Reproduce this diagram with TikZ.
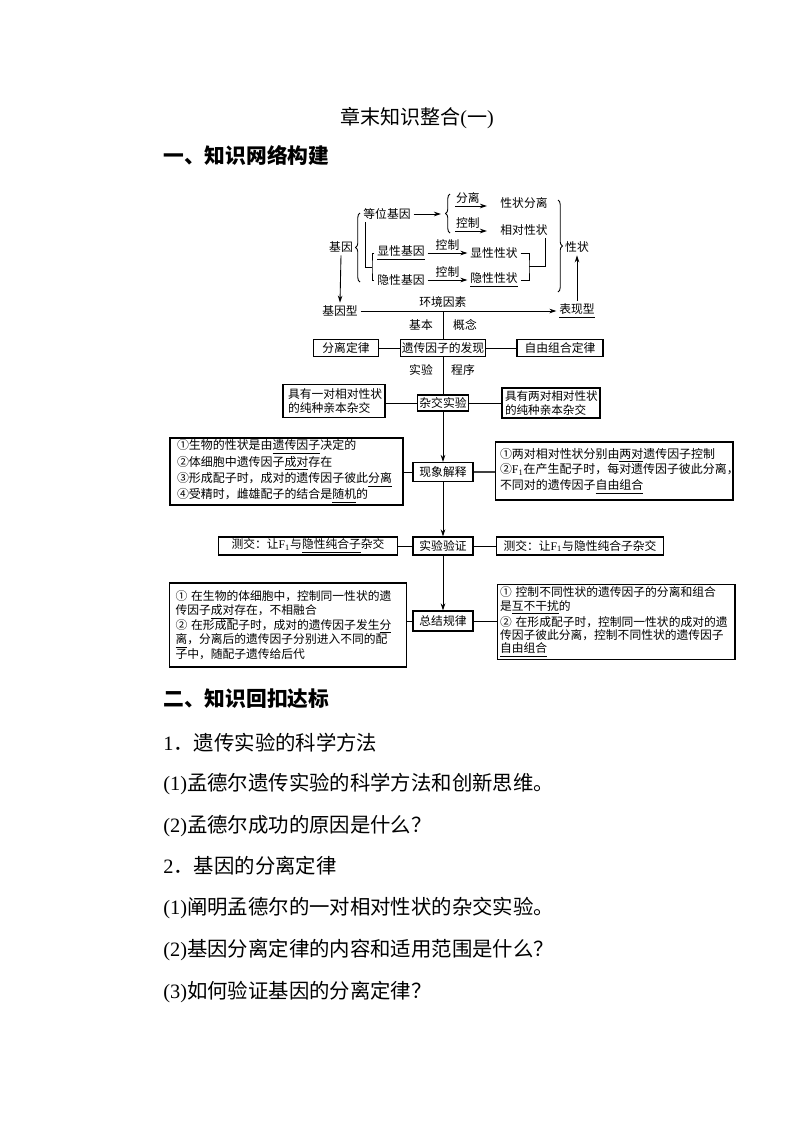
\documentclass[tikz,border=0pt]{standalone}
\usepackage{fontspec}
\setmainfont{Noto Sans CJK SC}
\newfontfamily\tnr{Liberation Serif}
\usetikzlibrary{arrows.meta,decorations.pathreplacing,calc}
\begin{document}
\begin{tikzpicture}[x=0.02cm,y=-0.02cm,
  every node/.style={font=\fontsize{6.7pt}{8pt}\selectfont, inner sep=1.5pt},
  bx/.style={draw, line width=0.6pt, inner sep=0pt, minimum height=0.34cm},
  tbox/.style={draw, line width=0.6pt, inner ysep=0pt, align=left},
  arr/.style={-{Stealth[length=4pt,width=2.6pt]}, line width=0.5pt},
  ln/.style={line width=0.5pt},
  brc/.style={decorate, decoration={brace, amplitude=2.5pt}, line width=0.5pt},
  body/.style={anchor=west, font=\fontsize{11.6pt}{14pt}\selectfont, inner sep=0pt},
  head/.style={anchor=west, font=\bfseries\fontsize{11.8pt}{14pt}\selectfont, inner sep=0pt},
]
\fill[white] (0,0) rectangle (794,1123);
\useasboundingbox (0,0) rectangle (794,1123);

% titles
\node[font=\fontsize{11.4pt}{14pt}\selectfont, inner sep=0pt] (title) at (417,118) {章末知识整合{\tnr(}一{\tnr)}};
\node[head] (h1) at (163,155) {一、知识网络构建};

% ---------- top part ----------
\node (jy) at (341,247) {基因};
\draw[brc] (360,282) -- (360,213);
\node (dw) at (387,214) {等位基因};
\coordinate (b2t) at (441,214);
\draw[arr] (dw.east) -- (b2t);
\draw[brc] (450,233) -- (450,194);
\coordinate (f1s) at (455,206);
\coordinate (f1e) at (487,206);
\draw[arr] (f1s) -- node[above, pos=0.4, inner sep=1pt] {分离} (f1e);
\node (xzfl) at (524,203) {性状分离};
\coordinate (k1s) at (455,231);
\coordinate (k1e) at (487,231);
\draw[arr] (k1s) -- node[above, pos=0.4, inner sep=1pt] {控制} (k1e);
\node (xdxz) at (524,230) {相对性状};

\node (xxjy) at (401,253) {\underline{显性基因}};
\node (yxjy) at (401,280) {隐性基因};
\coordinate (c1) at (372,267);
\draw[ln] ($(dw.south west)+(5,0)$) |- (c1);
\draw[ln] (xxjy.west) -| (c1) |- (yxjy.west);

\node (xxxz) at (494,253) {显性性状};
\node (yxxz) at (494,280) {\underline{隐性性状}};
\draw[arr] (xxjy.east) -- node[above, inner sep=1pt] {控制} (xxxz.west);
\draw[arr] (yxjy.east) -- node[above, inner sep=1pt] {控制} (yxxz.west);
\coordinate (c2) at (529,266.5);
\draw[ln] (xxxz.east) -| (c2) |- (yxxz.east);
\draw[ln] (c2) -| ($(xdxz.south east)+(-5,0)$);

\draw[brc] (558,200) -- (558,292);
\node (xz) at (577,247) {性状};
\node (bxx) at (577,311) {\underline{表现型}};
\draw[arr] (bxx.north) -- (xz.south);
\node (jyx) at (340,311) {基因型};
\draw[arr] (jy.south) -- (jyx.north);
\draw[arr] (jyx.east) -- node[above, pos=0.42, inner sep=2pt] {环境因素} (bxx.west);

% ---------- flow part ----------
\node[bx, minimum width=1.70cm] (fx) at (443,348) {遗传因子的发现};
\draw[ln] (fx.north) -- (fx.north |- jyx.east);
\node (jb) at (421,325) {基本};
\node (gn) at (465,325) {概念};
\node[bx, minimum width=1.30cm] (fl) at (346,348) {分离定律};
\node[bx, minimum width=1.72cm] (zy) at (560,348) {自由组合定律};
\draw[ln] (fl) -- (fx);
\draw[ln] (fx) -- (zy);
\node (sy) at (421,370) {实验};
\node (cx) at (463,370) {程序};

\node[bx, minimum width=1.02cm, minimum height=0.32cm] (zj) at (443,403) {杂交实验};
\draw[ln] (fx.south) -- (zj.north);
\node[tbox, font=\fontsize{6.7pt}{7.8pt}\selectfont, inner xsep=0.1cm, text width=1.84cm, minimum height=0.66cm] (zjl) at (334,401) {具有一对相对性状\\的纯种亲本杂交};
\node[tbox, font=\fontsize{6.6pt}{7.6pt}\selectfont, inner xsep=0.06cm, text width=1.84cm, minimum height=0.60cm] (zjr) at (551,403) {具有两对相对性状\\的纯种亲本杂交};
\draw[ln] (zj.west) -- (zj.west -| zjl.east);
\draw[ln] (zj.east) -- (zj.east -| zjr.west);

\node[bx, minimum width=1.2cm, minimum height=0.38cm] (xj) at (443,472) {现象解释};
\draw[arr] (zj.south) -- (xj.north);
\node[tbox, font=\fontsize{6.8pt}{7.6pt}\selectfont, inner xsep=0.14cm, text width=4.38cm, minimum height=1.34cm] (xjl) at (286.5,471.5)
  {①生物的性状是由\underline{遗传因子}决定的\\
   ②体细胞中遗传因子\underline{成对}存在\\
   ③形成配子时，成对的遗传因子彼此\underline{分离}\\
   ④受精时，雌雄配子的结合是\underline{随机}的};
\node[tbox, font=\fontsize{6.8pt}{9pt}\selectfont, inner xsep=0.1cm, text width=4.56cm, minimum height=1.16cm] (xjr) at (614,471)
  {①两对相对性状分别由\underline{两对}遗传因子控制\\
   ②{\tnr F\textsubscript{1}}在产生配子时，每对遗传因子彼此分离，\\
   不同对的遗传因子\underline{自由组合}};
\draw[ln] (xj.west) -- (xj.west -| xjl.east);
\draw[line width=1.1pt, black!75] (xj.east) -- (xj.east -| xjr.west);

\node[bx, minimum width=1.2cm, minimum height=0.36cm] (yz) at (443,546) {实验验证};
\draw[arr] (xj.south) -- (yz.north);
\node[bx, minimum width=3.58cm, minimum height=0.36cm] (cjl) at (308,546) {测交：让{\tnr F\textsubscript{1}}与\underline{隐性纯合子}杂交};
\node[bx, minimum width=3.34cm, minimum height=0.36cm] (cjr) at (580,546) {测交：让{\tnr F\textsubscript{1}}与隐性纯合子杂交};
\draw[ln] (yz.west) -- (cjl.east);
\draw[ln] (yz.east) -- (cjr.west);

\node[bx, minimum width=1.2cm, minimum height=0.40cm] (gl) at (443,621) {总结规律};
\draw[arr] (yz.south) -- (gl.north);
\node[tbox, font=\fontsize{6.7pt}{8.3pt}\selectfont, inner xsep=0.12cm, text width=4.50cm, minimum height=1.68cm] (gll) at (288,625)
  {①~在生物的体细胞中，控制同一性状的遗\\
   传因子\underline{成对}存在，不相融合\\
   ②~在形成配子时，成对的遗传因子发生\underline{分}\\
   \underline{离}，分离后的遗传因子分别进入不同的配\\
   子中，随配子遗传给后代};
\node[tbox, font=\fontsize{6.7pt}{7.6pt}\selectfont, inner xsep=0.06cm, text width=4.64cm, minimum height=1.5cm] (glr) at (616,622)
  {①~控制不同性状的遗传因子的分离和组合\\
   是\underline{互不干扰}的\\
   ②~在形成配子时，控制同一性状的成对的遗\\
   传因子彼此分离，控制不同性状的遗传因子\\
   \underline{自由组合}};
\draw[ln] (gl.west) -- (gl.west -| gll.east);
\draw[ln] (gl.east) -- (gl.east -| glr.west);

% ---------- bottom text ----------
\node[head] (h2) at (163,699) {二、知识回扣达标};
\node[body] (q1) at (163,743) {{\tnr 1}．遗传实验的科学方法};
\node[body] (q1a) at (163,784) {{\tnr(1)}孟德尔遗传实验的科学方法和创新思维。};
\node[body] (q1b) at (163,826) {{\tnr(2)}孟德尔成功的原因是什么？};
\node[body] (q2) at (163,866) {{\tnr 2}．基因的分离定律};
\node[body] (q2a) at (163,908) {{\tnr(1)}阐明孟德尔的一对相对性状的杂交实验。};
\node[body] (q2b) at (163,950) {{\tnr(2)}基因分离定律的内容和适用范围是什么？};
\node[body] (q2c) at (163,992) {{\tnr(3)}如何验证基因的分离定律？};
\end{tikzpicture}
\end{document}
